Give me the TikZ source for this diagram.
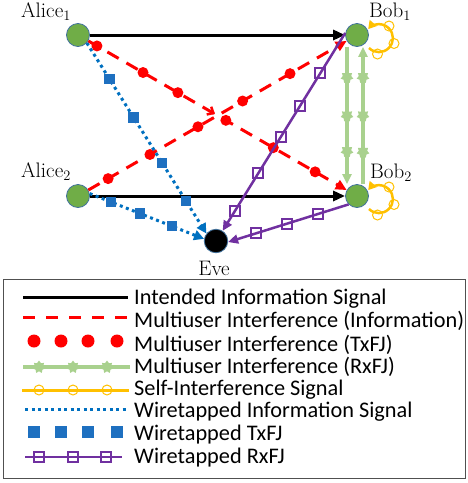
\documentclass[tikz,border=0pt]{standalone}
\usepackage{fontspec}
\newfontfamily\legfont{Carlito}
\usetikzlibrary{arrows.meta,shapes.geometric,decorations.markings}
\definecolor{cred}{RGB}{255,0,0}
\definecolor{cblue}{RGB}{0,112,192}
\definecolor{csq}{RGB}{30,112,192}
\definecolor{cpurple}{RGB}{112,48,160}
\definecolor{cgreen}{RGB}{169,209,142}
\definecolor{corange}{RGB}{255,192,0}
\definecolor{cnode}{RGB}{112,173,71}
\definecolor{cnodeb}{RGB}{65,113,156}
\definecolor{cbox}{RGB}{80,80,80}
\begin{document}
\begin{tikzpicture}[x=1pt,y=-1pt,
  user/.style={circle,fill=cnode,draw=cnodeb,line width=0.8pt,minimum size=23pt,inner sep=0pt},
  evenode/.style={circle,fill=black,draw=cnodeb,line width=0.8pt,minimum size=23.5pt,inner sep=0pt},
  lab/.style={font=\fontsize{21}{24}\selectfont,inner sep=0pt},
  info/.style={line width=3pt,black,-{Triangle[length=12pt,width=10pt]}},
  mui/.style={line width=3pt,cred,dash pattern=on 13pt off 9pt,-{Triangle[length=11pt,width=10pt]}},
  midtip/.style={postaction={decorate,decoration={markings,mark=at position 0.49 with {\arrow[cred,line width=2.5pt]{Straight Barb[length=5pt,width=9pt]}}}}},
  rdot/.style={circle,fill=cred,minimum size=11pt,inner sep=0pt},
  rdotleg/.style={circle,fill=cred,minimum size=13pt,inner sep=0pt},
  wti/.style={line width=3pt,cblue,dash pattern=on 3pt off 3.5pt,-{Triangle[length=10pt,width=10pt]}},
  bsq/.style={rectangle,fill=csq,minimum size=10.5pt,inner sep=0pt},
  bsqleg/.style={rectangle,fill=csq,minimum size=12.5pt,inner sep=0pt},
  wrx/.style={line width=2.5pt,cpurple,-{Triangle[length=10pt,width=9pt]}},
  psq/.style={rectangle,draw=cpurple,line width=2pt,minimum size=10pt,inner sep=0pt},
  rxfj/.style={line width=3.5pt,cgreen,-{Triangle[length=10pt,width=9pt]}},
  gstar/.style={star,star points=7,star point ratio=1.5,fill=cgreen,minimum size=13pt,inner sep=0pt},
  selfi/.style={line width=2.5pt,corange,-{Triangle[length=8pt,width=9pt]}},
  sicirc/.style={circle,draw=corange,line width=1pt,minimum size=10pt,inner sep=0pt},
  legtext/.style={font=\legfont\fontsize{22.3}{25}\selectfont,anchor=base west,inner sep=0pt},
  legbox/.style={draw=cbox,line width=1.5pt}
]
\useasboundingbox (0,0) rectangle (467,483);

% nodes
\node[user] (a1) at (78,35) {};
\node[user] (a2) at (78,196) {};
\node[user] (b1) at (357,35) {};
\node[user] (b2) at (357,196) {};
\node[evenode] (e) at (216,241) {};

\node[lab] (la1) at (46,12) {Alice$_1$};
\node[lab] (la2) at (46,172) {Alice$_2$};
\node[lab] (lb1) at (390,12) {Bob$_1$};
\node[lab] (lb2) at (391,173) {Bob$_2$};
\node[lab] (le) at (214,268) {Eve};

% intended
\draw[info] (a1) -- (b1);
\draw[info] (a2) -- (b2);

% multiuser interference (information)
\draw[mui,midtip] (a1) -- (b2);
\draw[mui] (a2) -- (b1);
\path (a1.center) -- (b2.center)
  node[rdot,pos=0.068] {} node[rdot,pos=0.233] {} node[rdot,pos=0.358] {}
  node[rdot,pos=0.53] {} node[rdot,pos=0.70] {} node[rdot,pos=0.85] {};
\path (a2.center) -- (b1.center)
  node[rdot,pos=0.108] {} node[rdot,pos=0.258] {} node[rdot,pos=0.43] {}
  node[rdot,pos=0.59] {} node[rdot,pos=0.76] {};

% wiretapped information
\draw[wti] (a1.-42) -- (e.142)
  node[bsq,pos=0.19] {} node[bsq,pos=0.39] {} node[bsq,pos=0.63] {} node[bsq,pos=0.83] {};
\draw[wti] (a2.12) -- (e.170)
  node[bsq,pos=0.185] {} node[bsq,pos=0.44] {} node[bsq,pos=0.72] {};

% wiretapped RxFJ
\draw[wrx] (b1.170) -- (e.57)
  node[psq,pos=0.203] {} node[psq,pos=0.37] {} node[psq,pos=0.528] {}
  node[psq,pos=0.71] {} node[psq,pos=0.90] {};
\draw[wrx] (b2.-135) -- (e.-5)
  node[psq,pos=0.25] {} node[psq,pos=0.51] {} node[psq,pos=0.765] {};

% multiuser interference (RxFJ)
\draw[rxfj] ([xshift=-10pt]b1.south) -- ([xshift=-10pt]b2.north)
  node[gstar,pos=0.22] {} node[gstar,pos=0.5] {} node[gstar,pos=0.76] {};
\draw[rxfj] ([xshift=6pt]b2.north) -- ([xshift=6pt]b1.south)
  node[gstar,pos=0.235] {} node[gstar,pos=0.5] {} node[gstar,pos=0.78] {};

% self-interference
\draw[selfi] (b1) ++(12,13) arc[start angle=135,end angle=-140,radius=14];
\node[sicirc] at ([shift={(32,-9)}]b1) {};
\node[sicirc] at ([shift={(37,8.5)}]b1) {};
\node[sicirc] at ([shift={(20.5,19)}]b1) {};
\draw[selfi] (b2) ++(12,13) arc[start angle=135,end angle=-140,radius=14];
\node[sicirc] at ([shift={(32,-9)}]b2) {};
\node[sicirc] at ([shift={(37,8.5)}]b2) {};
\node[sicirc] at ([shift={(20.5,19)}]b2) {};

% legend
\draw[legbox] (3.5,279.5) rectangle (465.5,478.5);
\draw[line width=3pt,black] (23,297) -- (128,297);
\node[legtext] (t1) at (134,304) {Intended Information Signal};
\draw[line width=3pt,cred,dash pattern=on 12pt off 11pt] (23,317) -- (128,317);
\node[legtext] (t2) at (134,327) {Multiuser Interference (Information)};
\foreach \x in {34,61,88,117} \node[rdotleg] at (\x,341) {};
\node[legtext] (t3) at (134,351) {Multiuser Interference (TxFJ)};
\draw[line width=3.5pt,cgreen] (23,367) -- (130,367);
\foreach \x in {39,73,107} \node[gstar] at (\x,367) {};
\node[legtext] (t4) at (134,373) {Multiuser Interference (RxFJ)};
\draw[line width=3pt,corange] (22,390) -- (129,390);
\foreach \x in {39,73,107} \node[sicirc] at (\x,390) {};
\node[legtext] (t5) at (134,395) {Self-Interference Signal};
\draw[line width=3pt,cblue,dash pattern=on 3.2pt off 3.3pt] (25,409) -- (128,409);
\node[legtext] (t6) at (134,417) {Wiretapped Information Signal};
\foreach \x in {34,61,88,117} \node[bsqleg] at (\x,432) {};
\node[legtext] (t7) at (134,440) {Wiretapped TxFJ};
\draw[line width=2.5pt,cpurple] (25,457) -- (122,457);
\foreach \x in {39,73,106} \node[psq] at (\x,457) {};
\node[legtext] (t8) at (134,463) {Wiretapped RxFJ};
\end{tikzpicture}
\end{document}
